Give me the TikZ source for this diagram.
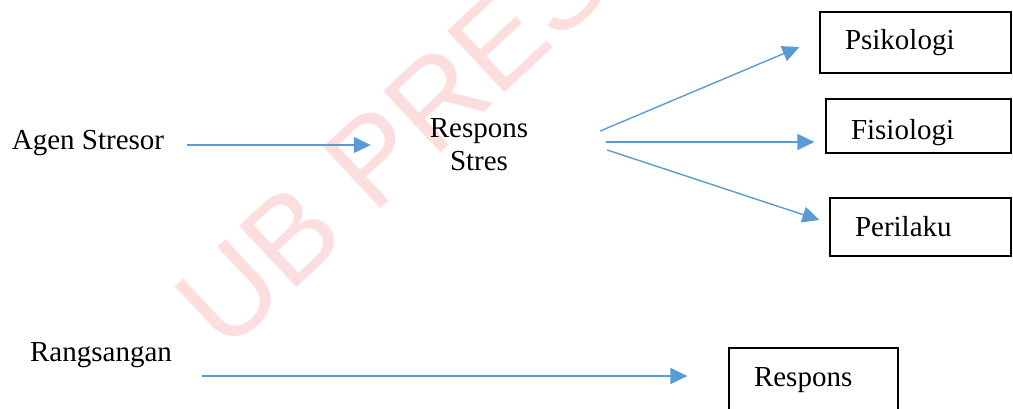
\documentclass[tikz,border=0pt]{standalone}
\usepackage{fontspec}
\setmainfont{Liberation Serif}
\setsansfont{Liberation Sans}
\usetikzlibrary{arrows.meta}
\definecolor{arrowblue}{RGB}{91,155,213}
\definecolor{markred}{RGB}{253,222,222}

\begin{document}
\begin{tikzpicture}[x=0.5pt,y=-0.5pt,>={Triangle[length=8.5pt,width=8pt]},
    every node/.style={font=\fontsize{14.5}{16.5}\selectfont},
    box/.style={draw,line width=0.6pt,align=left,inner xsep=12.5pt},
    flow/.style={->,draw=arrowblue,fill=arrowblue,line width=0.7pt}]
    \useasboundingbox (0,0) rectangle (1013,408);

    % Watermark
    \path (422,113) node[rotate=43,text=markred,font=\sffamily\fontsize{61}{61}\selectfont] (mark) {UB PRESS};

    \path
    % Stress chain
    (88,143)     node (agen)  {Agen Stresor}
    (479,145)    node[align=center] (stres) {Respons\\Stres}

    % Response boxes
    (915.5,42.5) node[box,text width=70.5pt,minimum height=30.5pt] (psiko) {Psikologi}
    (918.5,126)  node[box,text width=67.5pt,minimum height=27pt]   (fisio) {\raisebox{-3.5pt}[\height][\depth]{Fisiologi}}
    (920.5,227)  node[box,text width=65.5pt,minimum height=29pt]   (peri)  {Perilaku}

    % Stimulus and response
    (101,355)    node (rang) {Rangsangan}
    (813.5,380)  node[box,text width=59.5pt,minimum height=32pt]   (resp)  {Respons};

    % Link the different parts of the graph
    \draw[flow] ([shift={(16,2)}]agen.east) -- ([shift={(-52,0)}]stres.west);
    \draw[flow] ([shift={(65,-14)}]stres.east) -- ([shift={(-20,4.5)}]psiko.west);
    \draw[flow] ([shift={(71,-3)}]stres.east)  -- ([shift={(-11,16)}]fisio.west);
    \draw[flow] ([shift={(72,5)}]stres.east)   -- ([shift={(-10,-7)}]peri.west);
    \draw[flow] ([shift={(23,21)}]rang.east)   -- ([shift={(-41,-4)}]resp.west);
\end{tikzpicture}
\end{document}
